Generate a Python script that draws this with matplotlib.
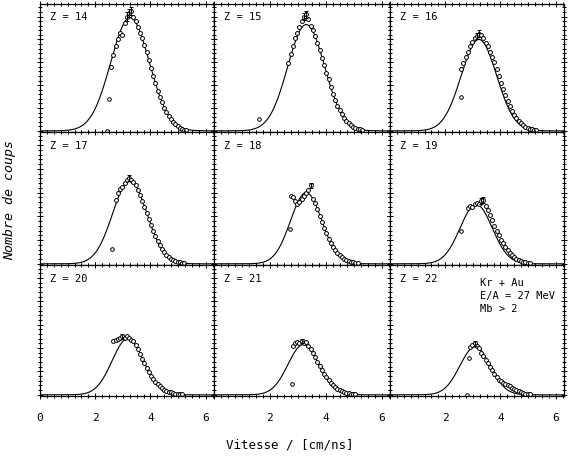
import numpy as np
import matplotlib
matplotlib.use("Agg")
import matplotlib.pyplot as plt
from matplotlib.ticker import MultipleLocator

nan = float("nan")

# ---------------- data ----------------
Z_LABELS = ["Z = 14", "Z = 15", "Z = 16", "Z = 17", "Z = 18",
            "Z = 19", "Z = 20", "Z = 21", "Z = 22"]

# velocity bins (cm/ns)
BINS = [2.50, 2.58, 2.66, 2.74, 2.82, 2.90, 2.98, 3.06, 3.14, 3.22, 3.30, 3.38,
        3.46, 3.54, 3.62, 3.70, 3.78, 3.86, 3.94, 4.02, 4.10, 4.18, 4.26, 4.34,
        4.42, 4.50, 4.58, 4.66, 4.74, 4.82, 4.90, 4.98, 5.06, 5.14, 5.22, 5.30]

Y_Z14 = [nan, 2.80, 3.30, 3.70, 4.00, 4.30, 4.20, 4.70, 5.00, 5.15, 5.25, 5.00,
         4.80, 4.55, 4.30, 4.05, 3.75, 3.45, 3.10, 2.75, 2.40, 2.10, 1.75, 1.50,
         1.25, 1.00, 0.82, 0.65, 0.50, 0.38, 0.28, 0.20, 0.14, 0.09, 0.05, 0.03]
Y_Z15 = [nan, nan, 2.95, 3.35, 3.70, 4.05, 4.30, 4.55, 4.80, 5.00, 5.10, 4.90,
         4.60, 4.40, 4.15, 3.85, 3.55, 3.20, 2.90, 2.55, 2.25, 1.90, 1.60, 1.35,
         1.10, 0.90, 0.72, 0.56, 0.44, 0.33, 0.25, 0.18, 0.13, 0.09, 0.06, 0.04]
Y_Z16 = [nan, 2.70, 2.95, 3.25, 3.45, 3.70, 3.90, 4.05, 4.15, 4.25, 4.20, 4.05,
         3.85, 3.70, 3.45, 3.25, 3.00, 2.70, 2.40, 2.10, 1.82, 1.55, 1.30, 1.08,
         0.88, 0.70, 0.55, 0.43, 0.33, 0.25, 0.18, 0.13, 0.09, 0.06, 0.04, 0.03]
Y_Z17 = [nan, nan, nan, 2.70, 3.00, 3.15, 3.25, 3.40, 3.55, 3.60, 3.55, 3.45,
         3.30, 3.10, 2.90, 2.65, 2.40, 2.15, 1.90, 1.65, 1.40, 1.18, 0.98, 0.80,
         0.64, 0.50, 0.39, 0.30, 0.22, 0.16, 0.12, 0.08, 0.06, 0.04, 0.03, nan]
Y_Z18 = [nan, nan, nan, 2.85, 2.80, 2.65, 2.50, 2.60, 2.75, 2.85, 3.00, 3.10,
         3.30, 2.75, 2.55, 2.30, 2.00, 1.75, 1.50, 1.28, 1.06, 0.88, 0.72, 0.58,
         0.46, 0.36, 0.28, 0.21, 0.16, 0.12, 0.09, 0.06, 0.04, 0.03, nan, nan]
Y_Z19 = [nan, nan, nan, nan, 2.35, 2.45, 2.40, 2.50, 2.55, 2.50, 2.65, 2.70,
         2.45, 2.25, 2.05, 1.85, 1.60, 1.40, 1.20, 1.02, 0.86, 0.72, 0.58, 0.46,
         0.36, 0.28, 0.21, 0.16, 0.12, 0.09, 0.06, 0.04, 0.03, nan, nan, nan]
Y_Z20 = [nan, nan, 2.30, 2.35, 2.40, 2.45, 2.50, 2.45, 2.50, 2.45, 2.35, 2.30,
         2.15, 1.95, 1.75, 1.55, 1.35, 1.15, 0.98, 0.82, 0.68, 0.56, 0.45, 0.36,
         0.28, 0.22, 0.17, 0.13, 0.10, 0.07, 0.05, 0.04, 0.03, 0.02, nan, nan]
Y_Z21 = [nan, nan, nan, nan, 2.10, 2.20, 2.25, 2.20, 2.30, 2.20, 2.25, 2.10,
         1.95, 1.80, 1.60, 1.40, 1.22, 1.05, 0.90, 0.76, 0.63, 0.52, 0.42, 0.34,
         0.27, 0.21, 0.16, 0.12, 0.09, 0.07, 0.05, 0.04, 0.03, nan, nan, nan]
Y_Z22 = [nan, nan, nan, nan, nan, 2.05, 2.15, 2.20, 2.10, 2.00, 1.80, 1.65,
         1.50, 1.35, 1.20, 1.05, 0.90, 0.75, 0.65, 0.58, 0.50, 0.45, 0.40, 0.36,
         0.30, 0.25, 0.20, 0.15, 0.10, 0.07, 0.05, 0.03, 0.02, nan, nan, nan]
COUNTS = [Y_Z14, Y_Z15, Y_Z16, Y_Z17, Y_Z18, Y_Z19, Y_Z20, Y_Z21, Y_Z22]

# isolated points off the main distribution
STRAY_X = [[2.50, 2.43], [1.60], [2.57], [2.60], [2.72], [2.57], [], [2.80], [2.86, 2.80]]
STRAY_Y = [[1.40, 0.00], [0.50], [1.48], [0.64], [1.48], [1.40], [], [0.47], [1.57, 0.00]]

# bins carrying a visible error bar and its half length
ERR_BINS = [[8, 9, 10], [9, 10], [8, 9], [9], [12], [10, 11], [6], [8], [7]]
ERR_HALF = [0.18, 0.15, 0.15, 0.12, 0.12, 0.12, 0.10, 0.10, 0.10]

# gaussian fit parameters per panel
FIT_CENTER = [3.26, 3.30, 3.22, 3.25, 3.30, 3.12, 3.18, 3.20, 3.08]
FIT_WIDTH = [0.70, 0.66, 0.64, 0.62, 0.56, 0.58, 0.57, 0.55, 0.55]
FIT_HEIGHT = [4.95, 4.65, 4.00, 3.50, 3.00, 2.50, 2.40, 2.15, 2.05]

X_TICKS = [0, 2, 4, 6]
INFO_LINES = ["Kr + Au", "E/A = 27 MeV", "Mb > 2"]

# ---------------- figure ----------------
W, H = 572, 458
fig = plt.figure(figsize=(W / 100, H / 100), dpi=100)
mono = "DejaVu Sans Mono"

x_edges = [40, 214, 390, 564]
y_edges = [4, 132, 265, 396]

xs_curve = np.linspace(0.0, 6.3, 400)

for i in range(9):
    r, c = divmod(i, 3)
    left = x_edges[c] / W
    width = (x_edges[c + 1] - x_edges[c]) / W
    bottom = 1 - y_edges[r + 1] / H
    height = (y_edges[r + 1] - y_edges[r]) / H
    ax = fig.add_axes([left, bottom, width, height])

    mu, sg, amp = FIT_CENTER[i], FIT_WIDTH[i], FIT_HEIGHT[i]
    ax.plot(xs_curve, amp * np.exp(-(xs_curve - mu) ** 2 / (2 * sg ** 2)),
            color="black", lw=0.8)

    bx = np.array(BINS)
    by = np.array(COUNTS[i])
    ax.plot(bx, by, linestyle="none", marker="o", ms=2.8, mfc="white",
            mec="black", mew=0.7)
    eb = ERR_BINS[i]
    ax.errorbar(bx[eb], by[eb], yerr=ERR_HALF[i], fmt="none", ecolor="black",
                elinewidth=0.7, capsize=1.2, capthick=0.7)
    ax.plot(STRAY_X[i], STRAY_Y[i], linestyle="none", marker="o", ms=2.6,
            mfc="white", mec="black", mew=0.7)

    ax.set_xlim(0, 6.3)
    ax.set_ylim(-0.05, 5.55)
    ax.xaxis.set_major_locator(plt.FixedLocator(X_TICKS))
    ax.xaxis.set_minor_locator(MultipleLocator(0.25))
    ax.yaxis.set_major_locator(MultipleLocator(1.0))
    ax.yaxis.set_minor_locator(MultipleLocator(0.2))
    ax.tick_params(which="both", direction="inout", top=True, right=True,
                   labelleft=False, width=0.7, colors="black")
    ax.tick_params(which="major", length=5)
    ax.tick_params(which="minor", length=2.5)
    if r == 2:
        labels = [str(t) for t in X_TICKS]
        if c > 0:
            labels[0] = ""
        ax.set_xticklabels(labels, fontfamily=mono, fontsize=8)
        ax.tick_params(axis="x", pad=10)
    else:
        ax.tick_params(axis="x", labelbottom=False)
    for sp in ax.spines.values():
        sp.set_linewidth(0.9)

    ax.text(0.057, 0.895, Z_LABELS[i], transform=ax.transAxes, ha="left",
            va="center", fontfamily=mono, fontsize=7.5)
    if i == 8:
        for k, line in enumerate(INFO_LINES):
            ax.text(0.517, 0.863 - 0.1 * k, line, transform=ax.transAxes,
                    ha="left", va="center", fontfamily=mono, fontsize=7.5)

fig.text(290 / W, 1 - 445 / H, "Vitesse / [cm/ns]", ha="center", va="center",
         fontfamily=mono, fontsize=9)
fig.text(10 / W, 1 - 200 / H, "Nombre de coups", ha="center", va="center",
         rotation=90, fontfamily=mono, fontstyle="italic", fontsize=9.5)

fig.savefig("out.png", dpi=100, facecolor="white")
